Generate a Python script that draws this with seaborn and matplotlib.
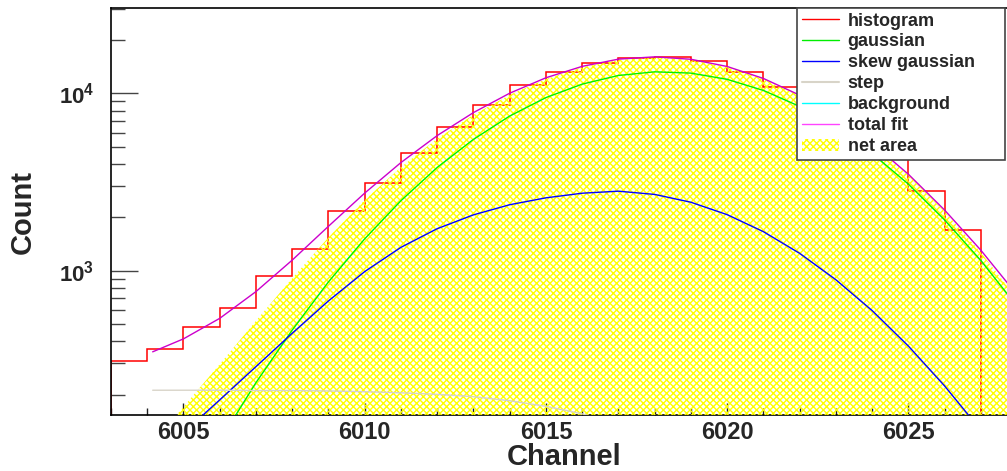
import numpy as np
import matplotlib
matplotlib.use("Agg")
import matplotlib.pyplot as plt
from matplotlib.ticker import MultipleLocator, LogLocator, NullFormatter, FixedLocator
from matplotlib.lines import Line2D
from matplotlib.patches import Patch
import seaborn as sns

# histogram: bin edges at integer channels, counts per bin
hist_edges = list(range(6003, 6028))
hist_counts = [309, 362, 480, 618, 930, 1326, 2163, 3133, 4605, 6428, 8590, 11100,
               13190, 14760, 15740, 15960, 15140, 13250, 10820, 8400, 6200, 4300,
               2825, 1695]

# fit components
fit_x = [6004.15, 6005, 6006, 6007, 6008, 6009, 6010, 6011, 6012, 6013, 6014, 6015,
         6016, 6017, 6018, 6019, 6020, 6021, 6022, 6023, 6024, 6025, 6026, 6027, 6028]
gauss = [23, 49, 110, 234, 463, 865, 1513, 2483, 3822, 5500, 7447, 9462,
         11270, 12610, 13220, 13000, 11990, 10380, 8440, 6410, 4580, 3076, 1932, 1141, 629]
skew_gauss = [84, 122, 187, 288, 444, 676, 989, 1355, 1726, 2065, 2355, 2576,
              2735, 2808, 2692, 2432, 2070, 1660, 1253, 889, 596, 376, 224, 126, 66]
step = [212, 212, 212, 211, 211, 210, 208, 205, 201, 195, 185, 172,
        156, 137, 117, 96, 76, 58, 43, 31, 22, 15, 10, 7, 5]
background_level = 30

x_ticks = [6005, 6010, 6015, 6020, 6025]
y_ticks = [1e3, 1e4]
y_tick_labels = [r'$\mathbf{10^{3}}$', r'$\mathbf{10^{4}}$']

background = [background_level] * len(fit_x)
net_area = np.array(gauss) + np.array(skew_gauss)
total_fit = net_area + np.array(step) + np.array(background)

sns.set_style("ticks")
plt.rcParams['font.family'] = ['Liberation Sans', 'DejaVu Sans']
plt.rcParams['font.weight'] = 'bold'
plt.rcParams['mathtext.fontset'] = 'custom'
plt.rcParams['mathtext.bf'] = 'Liberation Sans:bold'
plt.rcParams['mathtext.rm'] = 'Liberation Sans:bold'
plt.rcParams['hatch.linewidth'] = 1.0

fig = plt.figure(figsize=(10.07, 4.71), dpi=100)
ax = fig.add_axes([111 / 1007, 56 / 471, 896 / 1007, 407 / 471])
ax.set_yscale('log')

# histogram under the hatch
ax.stairs(hist_counts, hist_edges, baseline=1, color='#ff0000', lw=1.1, zorder=2)

hatch_col = '#ffff00'
hatch_pat = 'xxxxx'
ax.fill_between(fit_x, net_area, 1, facecolor='none', edgecolor=hatch_col,
                hatch=hatch_pat, linewidth=0, zorder=3)

curves = [(gauss, '#00ee00'), (skew_gauss, '#0000ff'), (step, '#d8d4c8'),
          (background, '#00ffff'), (total_fit, '#cc00cc')]
for vals, col in curves:
    sns.lineplot(x=fit_x, y=vals, color=col, lw=1.0, ax=ax, zorder=4,
                 estimator=None, sort=False, legend=False)

ax.set_xlim(6003.0, 6027.72)
ax.set_ylim(153.7, 30270)

ax.xaxis.set_major_locator(FixedLocator(x_ticks))
ax.xaxis.set_minor_locator(MultipleLocator(1))
ax.yaxis.set_major_locator(FixedLocator(y_ticks))
ax.set_yticklabels(y_tick_labels)
ax.yaxis.set_minor_locator(LogLocator(base=10, subs=np.arange(2, 10)))
ax.yaxis.set_minor_formatter(NullFormatter())

ax.tick_params(axis='x', which='major', direction='in', length=8.5, width=1,
               labelsize=17, pad=4, color='#222222')
ax.tick_params(axis='x', which='minor', direction='in', length=5, width=1, color='#222222')
ax.tick_params(axis='y', which='major', direction='in', length=19.5, width=1,
               labelsize=16, pad=12, color='#444444')
ax.tick_params(axis='y', which='minor', direction='in', length=10, width=1, color='#444444')
for lab in ax.get_xticklabels():
    lab.set_fontweight('bold')

ax.spines['right'].set_visible(False)
for s in ['left', 'bottom', 'top']:
    ax.spines[s].set_color('black')
    ax.spines[s].set_linewidth(1.2)

ax.set_xlabel('Channel', fontsize=21, fontweight='bold')
ax.set_ylabel('Count', fontsize=21, fontweight='bold')
ax.xaxis.set_label_coords((564 - 111) / 896, -28 / 407)
ax.yaxis.set_label_coords((37 - 111) / 896, 0.5)

handles = [
    Line2D([], [], color='#ff0000', lw=1.0),
    Line2D([], [], color='#00ee00', lw=1.0),
    Line2D([], [], color='#0000ff', lw=1.0),
    Line2D([], [], color='#d8d4c8', lw=1.5),
    Line2D([], [], color='#00ffff', lw=1.0),
    Line2D([], [], color='#ff44ff', lw=1.0),
    Patch(facecolor='none', edgecolor=hatch_col, hatch=hatch_pat, linewidth=0),
]
labels = ['histogram', 'gaussian', 'skew gaussian', 'step', 'background', 'total fit', 'net area']
leg = ax.legend(handles, labels, loc='upper left', mode='expand',
                bbox_to_anchor=(797 / 1007, 1 - 163 / 471, 208 / 1007, 155 / 471),
                bbox_transform=fig.transFigure, borderaxespad=0,
                prop={'weight': 'bold', 'size': 13}, handlelength=2.1, handletextpad=0.45,
                labelspacing=0.22, borderpad=0.25, fancybox=False, framealpha=1,
                edgecolor='#444444')
leg.get_frame().set_linewidth(1.2)
leg.set_zorder(6)

fig.savefig('out.png', dpi=100)
